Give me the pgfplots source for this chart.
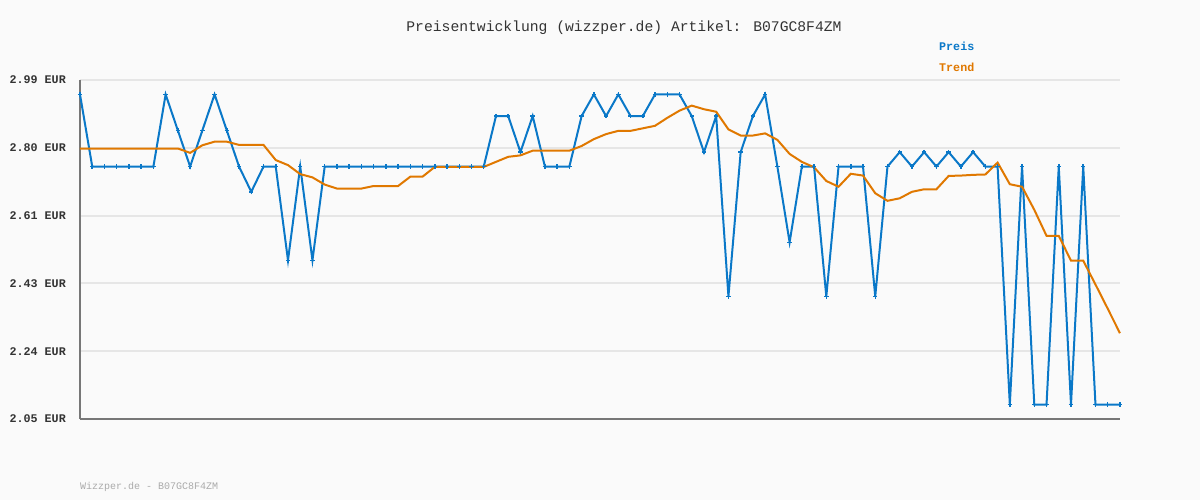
\documentclass[border=0pt]{standalone}
\usepackage{fontspec}
\usepackage{pgfplots}
\pgfplotsset{compat=1.18}
\newfontfamily\mono{Liberation Mono}
\definecolor{bg}{HTML}{FAFAFA}
\definecolor{preis}{HTML}{0A78C8}
\definecolor{trend}{HTML}{E07800}
\definecolor{gridc}{HTML}{E6E6E6}
\definecolor{axc}{HTML}{777777}
\definecolor{titc}{HTML}{333333}
\definecolor{footc}{HTML}{AAAAAA}
\begin{document}
\begin{tikzpicture}[x=1pt,y=1pt]
\useasboundingbox (0,0) rectangle (1200,500);
\fill[bg] (0,0) rectangle (1200,500);
\begin{axis}[
  at={(80pt,81pt)}, anchor=south west,
  scale only axis, width=1040pt, height=339pt,
  xmin=0, xmax=85, ymin=2.05, ymax=2.99,
  xtick=\empty,
  ytick={2.05,2.238,2.426,2.614,2.802,2.99},
  yticklabels={2.05 EUR,2.24 EUR,2.43 EUR,2.61 EUR,2.80 EUR,2.99 EUR},
  yticklabel style={font=\mono\bfseries\fontsize{11.7}{12}\selectfont, text=titc, inner sep=0pt, anchor=east, xshift=-14pt},
  major tick length=0pt,
  ymajorgrids, major grid style={gridc, line width=2pt},
  axis x line*=bottom, axis y line*=left,
  axis line style={axc, line width=2.5pt, -},
  clip=false,
]
\addplot[preis, line width=2pt, mark=+, mark size=2.2pt, mark options={line width=1.5pt}] coordinates {
(0,2.95)(1,2.75)(2,2.75)(3,2.75)(4,2.75)(5,2.75)(6,2.75)(7,2.95)(8,2.85)(9,2.75)
(10,2.85)(11,2.95)(12,2.85)(13,2.75)(14,2.68)(15,2.75)(16,2.75)(17,2.49)(18,2.75)(19,2.49)
(20,2.75)(21,2.75)(22,2.75)(23,2.75)(24,2.75)(25,2.75)(26,2.75)(27,2.75)(28,2.75)(29,2.75)
(30,2.75)(31,2.75)(32,2.75)(33,2.75)(34,2.89)(35,2.89)(36,2.79)(37,2.89)(38,2.75)(39,2.75)
(40,2.75)(41,2.89)(42,2.95)(43,2.89)(44,2.95)(45,2.89)(46,2.89)(47,2.95)(48,2.95)(49,2.95)
(50,2.89)(51,2.79)(52,2.89)(53,2.39)(54,2.79)(55,2.89)(56,2.95)(57,2.75)(58,2.54)(59,2.75)
(60,2.75)(61,2.39)(62,2.75)(63,2.75)(64,2.75)(65,2.39)(66,2.75)(67,2.79)(68,2.75)(69,2.79)
(70,2.75)(71,2.79)(72,2.75)(73,2.79)(74,2.75)(75,2.75)(76,2.09)(77,2.75)(78,2.09)(79,2.09)
(80,2.75)(81,2.09)(82,2.75)(83,2.09)(84,2.09)(85,2.09)
};
\addplot[trend, line width=2pt, mark=none] coordinates {
(0,2.80)(1,2.80)(2,2.80)(3,2.80)(4,2.80)(5,2.80)(6,2.80)(7,2.80)(8,2.80)(9,2.788)
(10,2.809)(11,2.819)(12,2.819)(13,2.81)(14,2.81)(15,2.81)(16,2.768)(17,2.754)(18,2.729)(19,2.72)
(20,2.70)(21,2.689)(22,2.689)(23,2.689)(24,2.696)(25,2.696)(26,2.696)(27,2.722)(28,2.722)(29,2.749)
(30,2.749)(31,2.749)(32,2.749)(33,2.749)(34,2.763)(35,2.777)(36,2.781)(37,2.794)(38,2.794)(39,2.794)
(40,2.794)(41,2.807)(42,2.826)(43,2.84)(44,2.849)(45,2.849)(46,2.856)(47,2.863)(48,2.885)(49,2.905)
(50,2.919)(51,2.909)(52,2.902)(53,2.853)(54,2.836)(55,2.836)(56,2.842)(57,2.824)(58,2.785)(59,2.763)
(60,2.748)(61,2.71)(62,2.694)(63,2.73)(64,2.725)(65,2.676)(66,2.655)(67,2.662)(68,2.68)(69,2.687)
(70,2.687)(71,2.724)(72,2.725)(73,2.727)(74,2.728)(75,2.761)(76,2.701)(77,2.694)(78,2.63)(79,2.558)
(80,2.558)(81,2.489)(82,2.489)(83,2.423)(84,2.356)(85,2.288)
};
\end{axis}
\node[font=\mono\fontsize{14.7}{16}\selectfont, text=titc, inner sep=0pt] at (624,472) {Preisentwicklung (wizzper.de) Artikel: B07GC8F4ZM};
\node[font=\mono\bfseries\fontsize{11.7}{12}\selectfont, text=preis, inner sep=0pt, anchor=west] at (939,454) {Preis};
\node[font=\mono\bfseries\fontsize{11.7}{12}\selectfont, text=trend, inner sep=0pt, anchor=west] at (939,433) {Trend};
\node[font=\mono\fontsize{10}{11}\selectfont, text=footc, inner sep=0pt, anchor=west] at (80,13) {Wizzper.de - B07GC8F4ZM};
\end{tikzpicture}
\end{document}
